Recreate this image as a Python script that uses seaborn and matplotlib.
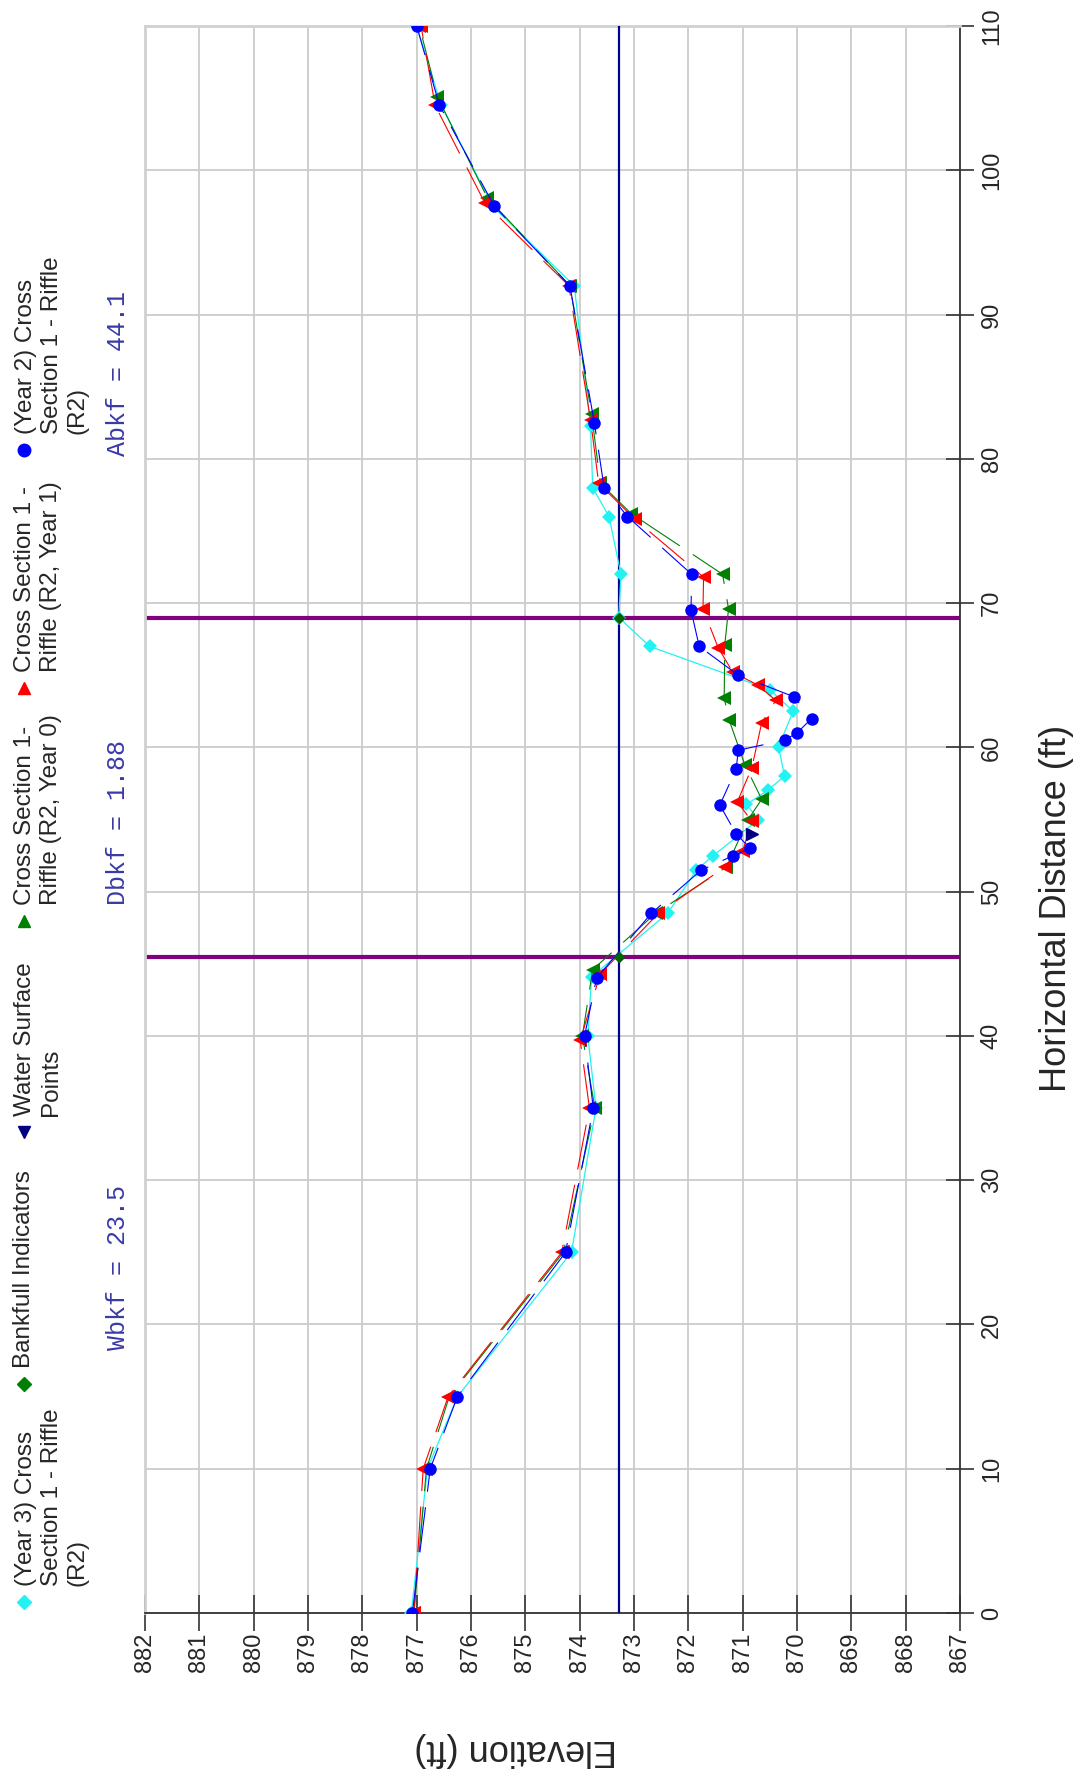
import matplotlib
matplotlib.use("Agg")
import seaborn as sns
from matplotlib import pyplot as plt

# ---- data: distance (ft) along the section, elevation (ft)
yr3_dist = [0, 10, 15, 25, 35, 40, 44.1, 48.5, 51.5, 52.5, 55.0, 56.05, 57.05, 58.0, 60.05, 62.5, 64.0, 67.0,
            69.0, 72.0, 76.0, 78.0, 82.3, 92.0, 97.5, 104.5, 110]
yr3_elev = [877.1, 876.8, 876.25, 874.15, 873.7, 873.85, 873.78, 872.38, 871.85, 871.54, 870.71, 870.93, 870.53,
            870.23, 870.34, 870.07, 870.5, 872.71, 873.28, 873.24, 873.46, 873.76, 873.8, 874.1, 875.6, 876.55, 877.0]

yr0_dist = [0, 10, 15, 25, 35, 40, 44.6, 48.5, 51.7, 55.0, 56.4, 58.8, 61.9, 63.4, 67.1, 69.6, 72.0, 76.2,
            78.3, 83.1, 92.0, 98.1, 105.1, 110]
yr0_elev = [877.05, 876.82, 876.4, 874.3, 873.72, 873.95, 873.76, 872.6, 871.3, 870.9, 870.65, 870.96, 871.25,
            871.34, 871.33, 871.26, 871.37, 873.05, 873.62, 873.78, 874.18, 875.7, 876.62, 876.95]

yr1_dist = [0, 10, 15, 25, 35, 39.7, 44.3, 48.5, 51.7, 52.8, 54.9, 56.2, 58.6, 61.7, 63.25, 64.3, 65.2, 66.9,
            69.6, 71.8, 75.8, 78.3, 82.7, 92.0, 97.7, 104.5, 110]
yr1_elev = [877.05, 876.88, 876.42, 874.33, 873.82, 873.99, 873.62, 872.55, 871.33, 871.0, 870.83, 871.1,
            870.83, 870.65, 870.39, 870.71, 871.18, 871.45, 871.73, 871.72, 872.98, 873.65, 873.8, 874.2,
            875.74, 876.66, 876.92]

yr2_dist = [0, 10, 15, 25, 35, 40, 44.0, 48.5, 51.5, 52.5, 53.0, 54.0, 56.0, 58.5, 59.8, 60.5, 61.0, 62.0,
            63.5, 65.0, 67.0, 69.5, 72.0, 76.0, 78.0, 82.5, 92.0, 97.5, 104.5, 110]
yr2_elev = [877.08, 876.75, 876.25, 874.26, 873.75, 873.91, 873.69, 872.68, 871.76, 871.17, 870.86, 871.12,
            871.42, 871.12, 871.08, 870.23, 870.0, 869.73, 870.05, 871.08, 871.8, 871.95, 871.94, 873.12,
            873.55, 873.73, 874.18, 875.57, 876.58, 877.0]

ws_dist = [53.97]
ws_elev = [870.83]

bkf_dist = [45.5, 69.0]
bkf_elev = [873.28, 873.28]
bkf_level = 873.28

elev_ticks = list(range(867, 883))
dist_ticks = list(range(0, 111, 10))

W, H = 1080, 1775

sns.set_style("whitegrid")
plt.rcParams['font.family'] = ['Liberation Sans', 'DejaVu Sans']

fig = plt.figure(figsize=(W / 100, H / 100), dpi=100)
ax = fig.add_axes([145 / W, 1 - 1613 / H, 815 / W, 1587 / H])

dash = (0, (41, 14))
sns.lineplot(x=yr3_elev, y=yr3_dist, sort=False, estimator=None, ax=ax, color='#22f2f2', linewidth=0.9,
             marker='D', markersize=7, markeredgewidth=0, zorder=3)
sns.lineplot(x=yr0_elev, y=yr0_dist, sort=False, estimator=None, ax=ax, color='#008000', linewidth=0.8,
             linestyle=dash, marker='<', markersize=10, markeredgewidth=0, zorder=4)
sns.lineplot(x=yr1_elev, y=yr1_dist, sort=False, estimator=None, ax=ax, color='#ff0000', linewidth=0.8,
             linestyle=dash, marker='<', markersize=10, markeredgewidth=0, zorder=5)
sns.lineplot(x=yr2_elev, y=yr2_dist, sort=False, estimator=None, ax=ax, color='#0000ff', linewidth=0.8,
             linestyle=dash, marker='o', markersize=9, markeredgewidth=0, zorder=6)
ax.plot(ws_elev, ws_dist, linestyle='none', marker='>', markersize=9, color='#000080', zorder=7)

# bankfull width / elevation lines
for d in bkf_dist:
    ax.axhline(d, color='#800080', linewidth=3, zorder=2.5)
ax.axvline(bkf_level, color='#000090', linewidth=1.6, zorder=2.6)
ax.plot(bkf_elev, bkf_dist, linestyle='none', marker='D', markersize=5, color='#006400', zorder=8)

ax.set_xlim(882, 867)
ax.set_ylim(0, 110)
ax.set_xticks(elev_ticks)
ax.set_yticks(dist_ticks)
ax.set_xlabel('')
ax.set_ylabel('')
ax.yaxis.tick_right()
ax.grid(True, color='#cccccc', linewidth=1.3)
ax.tick_params(axis='x', direction='inout', length=26, width=1.2, color='#333333', labelrotation=90,
               labelsize=17, pad=1, bottom=True)
ax.tick_params(axis='y', direction='inout', length=20, width=1.2, color='#333333', labelrotation=90,
               labelsize=17, pad=5, right=True, left=False)
for lab in ax.get_yticklabels():
    lab.set_va('center')
for s in ['bottom', 'right']:
    ax.spines[s].set_color('#333333')
    ax.spines[s].set_linewidth(1.3)
for s in ['top', 'left']:
    ax.spines[s].set_color('#d0d0d0')
    ax.spines[s].set_linewidth(2)

fig.text(1056 / W, 1 - 908 / H, 'Horizontal Distance (ft)', rotation=90, ha='center', va='center', fontsize=26)
fig.text(516 / W, 1 - 1749 / H, 'Elevation (ft)', rotation=180, ha='center', va='center', fontsize=26)

# legend and bankfull numbers, drawn in pixel coordinates on the left strip
lg = fig.add_axes([0, 0, 140 / W, 1])
lg.set_xlim(0, 140)
lg.set_ylim(H, 0)
lg.axis('off')

entries = [
    ('D', '#22f2f2', 7, 1602, '(Year 3) Cross\nSection 1 - Riffle\n(R2)'),
    ('D', '#008000', 7, 1384, 'Bankfull Indicators'),
    ('v', '#000080', 9, 1132, 'Water Surface\nPoints'),
    ('^', '#008000', 9, 921, 'Cross Section 1-\nRiffle (R2, Year 0)'),
    ('^', '#ff0000', 9, 688, 'Cross Section 1 -\nRiffle (R2, Year 1)'),
    ('o', '#0000ff', 9, 450, '(Year 2) Cross\nSection 1 - Riffle\n(R2)'),
]
for mk, col, ms, ypos, txt in entries:
    lg.plot([24], [ypos], marker=mk, color=col, markersize=ms, linestyle='none')
    nlines = txt.count('\n') + 1
    xc = 24 + (nlines - 1) * 28 / 2
    lg.text(xc, ypos - 16, txt, rotation=90, ha='center', va='bottom', multialignment='left',
            fontsize=17.5, linespacing=1.22)

mono = ['Liberation Mono', 'DejaVu Sans Mono']
for label, ypos in [('Wbkf = 23.5', 1350), ('Dbkf = 1.88', 905), ('Abkf = 44.1', 456)]:
    lg.text(118, ypos, label, rotation=90, ha='center', va='bottom', fontsize=18, family=mono,
            color='#3a3aa8')

fig.savefig('out.png', dpi=100)
